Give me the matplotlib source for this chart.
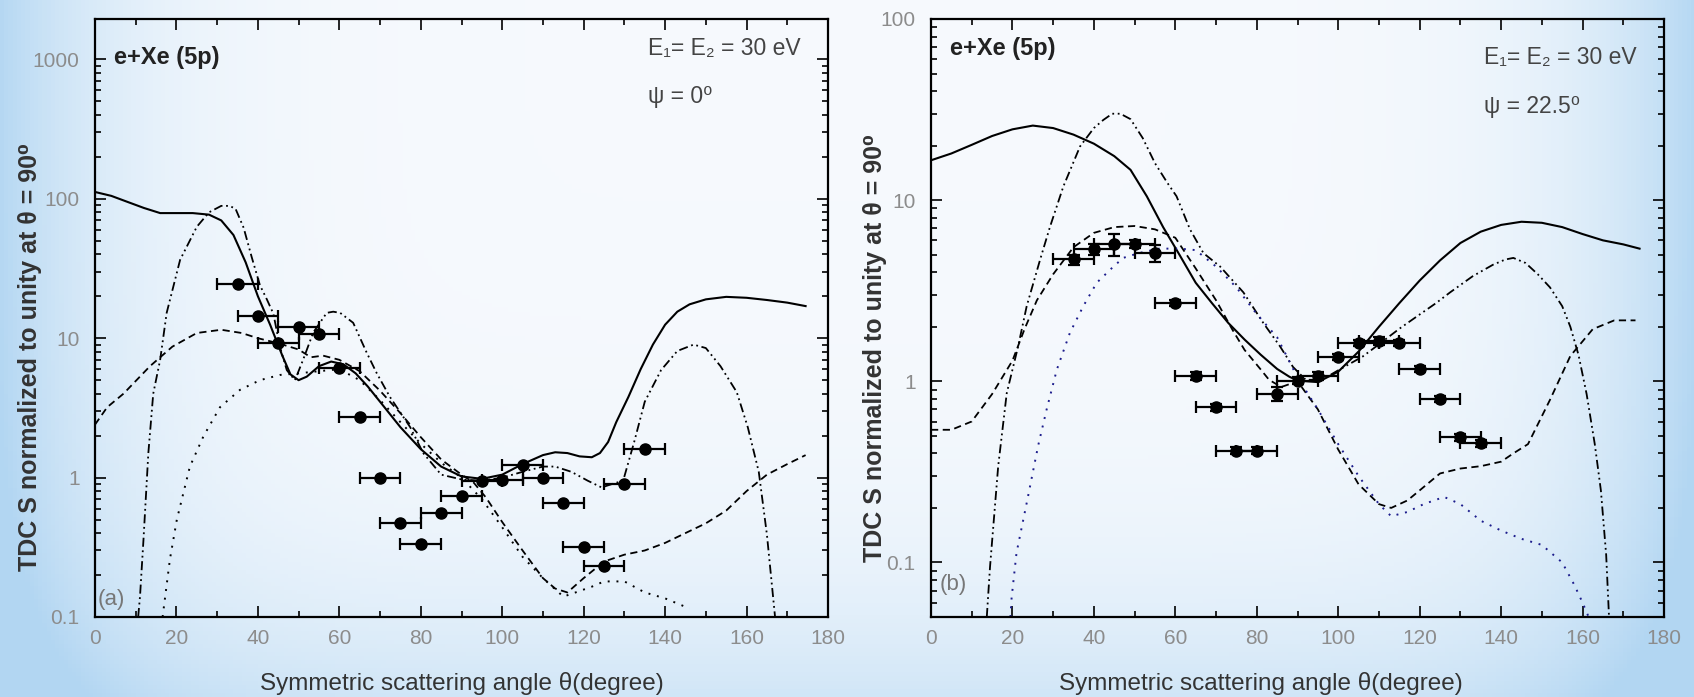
import numpy as np
import matplotlib
matplotlib.use("Agg")
from matplotlib import pyplot as plt
from matplotlib.ticker import FixedLocator, LogLocator, FuncFormatter, NullFormatter

plt.rcParams['font.family'] = ['Liberation Sans', 'DejaVu Sans']

# measured TDCS, normalized at 90 deg
theta_exp = [35, 40, 45, 50, 55, 60, 65, 70, 75, 80, 85, 90, 95, 100, 105, 110, 115, 120, 125, 130, 135]
dtheta = 5
tdcs_a = [24.4, 14.5, 9.3, 12.0, 10.7, 6.1, 2.74, 1.0, 0.47, 0.336, 0.553, 0.736, 0.94, 0.96,
          1.23, 1.0, 0.66, 0.32, 0.233, 0.90, 1.61]
tdcs_b = [4.71, 5.36, 5.74, 5.74, 5.13, 2.71, 1.07, 0.72, 0.415, 0.415, 0.855, 1.01, 1.07, 1.36,
          1.62, 1.67, 1.62, 1.17, 0.795, 0.49, 0.455]
err_b = [0.3, 0.4, 0.8, 0.3, 0.55, 0.1, 0.05, 0.03, 0.02, 0.02, 0.08, 0.04, 0.05, 0.05,
         0.06, 0.08, 0.06, 0.04, 0.03, 0.02, 0.02]

# theory, psi = 0
solid_a_x = [0, 4, 8, 12, 16, 20, 24, 28, 31, 34, 37, 40, 43, 46, 48, 50, 52, 55, 58, 61, 64, 67, 70, 75,
             80, 85, 90, 95, 100, 105, 110, 113, 116, 119, 122, 124, 126, 128, 131, 134, 137, 140, 143,
             146, 150, 155, 160, 165, 170, 174.5]
solid_a_y = [112, 105, 95, 86, 79, 79, 79, 77, 70, 55, 35, 20, 12.5, 7.5, 5.5, 5.0, 5.3, 6.3, 6.8, 6.5,
             5.6, 4.5, 3.5, 2.3, 1.6, 1.2, 1.02, 0.98, 1.05, 1.25, 1.45, 1.52, 1.5, 1.42, 1.4, 1.5, 1.8,
             2.5, 3.8, 6, 9, 12.5, 15.5, 17.5, 19, 19.8, 19.5, 18.8, 18, 17]
dashdot_a_x = [10.6, 11.05, 11.9, 13.1, 14.3, 16, 17.6, 20.9, 25, 28, 31, 33, 34.5, 36.5, 38.5, 40.5,
               42.2, 43.8, 45.4, 47.1, 49.1, 51.1, 53.6, 56.9, 58.5, 60.2, 63.4, 66.7, 69.2, 72.4,
               77.4, 80.6, 85, 90, 95, 100, 105, 110, 113, 117, 121, 124.4, 127, 129.7, 132.4, 135,
               139, 143, 147, 150, 153.6, 157.6, 160.3, 163, 165, 167]
dashdot_a_y = [0.1, 0.14, 0.357, 1.5, 4.0, 7.0, 15.2, 36.5, 63, 80, 89, 89, 85, 62, 38, 24, 19, 15,
               8.7, 5.9, 5.0, 7.0, 11, 15.2, 15.5, 15.2, 12.9, 7.9, 5.6, 3.8, 2.3, 1.5, 1.05, 0.97,
               0.95, 1.0, 1.1, 1.2, 1.2, 1.1, 0.95, 0.85, 0.9, 0.95, 1.8, 3.5, 5.9, 8.1, 9.0, 8.5,
               6.3, 4.1, 2.3, 1.1, 0.39, 0.1]
dashed_a_x = [0, 3, 7, 13.5, 19, 25, 31, 36, 40, 45, 50, 53, 56, 60, 65, 70, 75, 80, 85, 90, 93, 96,
              100, 105, 110, 113, 116, 120, 125, 130, 135, 140, 145, 150, 155, 160, 165, 170, 174.5]
dashed_a_y = [2.4, 3.2, 4.0, 6.3, 8.7, 10.9, 11.5, 10.9, 10.0, 9.2, 8.3, 7.3, 7.5, 7.0, 5.8, 4.2, 2.9,
              1.95, 1.35, 1.05, 0.92, 0.72, 0.48, 0.3, 0.19, 0.16, 0.15, 0.19, 0.25, 0.28, 0.3, 0.34,
              0.4, 0.47, 0.58, 0.8, 1.05, 1.25, 1.45]
dotted_a_x = [16.6, 18.4, 20.1, 23.3, 26.6, 30.7, 35.6, 40.5, 45.4, 50, 55, 60, 65, 70, 75, 80, 85, 90,
              95, 100, 105, 110, 115, 118, 122, 125, 130, 135, 140, 146]
dotted_a_y = [0.1, 0.26, 0.5, 1.2, 1.97, 3.2, 4.26, 5.0, 5.45, 5.6, 5.8, 6.0, 5.0, 3.6, 2.5, 1.75, 1.28,
              1.0, 0.7, 0.44, 0.27, 0.19, 0.14, 0.15, 0.165, 0.18, 0.18, 0.15, 0.136, 0.115]

# theory, psi = 22.5
solid_b_x = [0, 5, 10, 15, 20, 25, 30, 35, 40, 45, 49, 53, 57, 61, 65, 69, 73, 77, 81, 85, 88, 90, 95,
             100, 105, 110, 115, 120, 125, 130, 135, 140, 145, 150, 155, 160, 165, 170, 174]
solid_b_y = [16.6, 18.1, 20.2, 22.6, 24.6, 25.8, 25, 23, 20.5, 17.5, 14.7, 10.5, 7.1, 5.0, 3.5, 2.7,
             2.1, 1.7, 1.4, 1.17, 1.06, 1.01, 0.99, 1.13, 1.46, 2.0, 2.7, 3.6, 4.65, 5.8, 6.7, 7.3,
             7.6, 7.5, 7.1, 6.5, 6.0, 5.7, 5.4]
dashdot_b_x = [13.7, 14.5, 16.5, 18.6, 21.4, 23.5, 26.8, 29.2, 32.5, 36.6, 40, 42.3, 44.5, 46.5, 49,
               52, 55, 58, 60.3, 63.6, 66.9, 71, 76.7, 81.6, 85.7, 88.9, 92, 96, 100, 106, 110, 115,
               119.3, 124, 127.5, 133, 138, 141, 143, 146, 149, 152, 155, 157, 159, 161, 163, 164.5,
               165.8, 166.5]
dashdot_b_y = [0.05, 0.095, 0.34, 0.86, 1.56, 2.6, 4.7, 7.1, 11.9, 19.8, 25, 27.7, 30, 30, 28, 22, 16,
               12.5, 10.5, 6.9, 5.1, 4.3, 3.1, 2.1, 1.56, 1.2, 1.02, 1.02, 1.15, 1.37, 1.6, 1.95,
               2.28, 2.7, 3.1, 3.8, 4.4, 4.7, 4.8, 4.5, 3.9, 3.3, 2.6, 2.0, 1.4, 0.85, 0.45, 0.25,
               0.11, 0.05]
dashed_b_x = [0, 5, 10, 15, 20, 23, 26, 30, 35, 40, 45, 50, 55, 60, 65, 70, 74, 77, 81, 83, 86, 90, 95,
              100, 105, 110, 113, 117, 120, 125, 130, 135, 140, 143, 146.6, 152, 157, 162.5, 167.8, 173]
dashed_b_y = [0.54, 0.54, 0.6, 0.85, 1.3, 1.95, 2.8, 3.9, 5.5, 6.6, 7.1, 7.2, 6.9, 6.2, 4.2, 2.8, 1.93,
              1.49, 1.16, 1.02, 0.93, 1.0, 0.7, 0.42, 0.27, 0.21, 0.2, 0.22, 0.25, 0.31, 0.33, 0.34,
              0.36, 0.4, 0.45, 0.79, 1.38, 1.94, 2.17, 2.17]
dotted_b_x = [19.5, 19.8, 21, 23.8, 26.3, 28.4, 30.9, 34.1, 37.4, 40.7, 44.8, 47.2, 51, 56, 61, 65, 70,
              75, 80, 85, 90, 95, 100, 105, 110, 113, 117, 121, 126, 130, 135, 140, 145, 150, 155,
              158, 160, 161.5]
dotted_b_y = [0.05, 0.064, 0.113, 0.23, 0.44, 0.7, 1.16, 1.85, 2.6, 3.5, 4.3, 4.8, 5.1, 5.4, 5.4, 5.3,
              4.3, 3.3, 2.35, 1.75, 1.05, 0.7, 0.45, 0.3, 0.21, 0.18, 0.19, 0.21, 0.23, 0.21, 0.17,
              0.15, 0.135, 0.125, 0.1, 0.075, 0.06, 0.05]

fig = plt.figure(figsize=(16.94, 6.97), dpi=100)

# slide-style pale blue background
bg = fig.add_axes([0, 0, 1, 1], zorder=-10)
gx, gy = np.meshgrid(np.linspace(0, 1, 400), np.linspace(0, 1, 170))
w = np.clip(0.95 * (np.abs(gx - 0.5) * 2) ** 7 + 0.55 * gy ** 5, 0, 1)[..., None]
light = np.array([0.965, 0.978, 0.993])
blue = np.array([0.70, 0.84, 0.95])
bg.imshow(light * (1 - w) + blue * w, aspect='auto', extent=[0, 1, 0, 1])
bg.axis('off')

gray = '#8c8c8c'
dark = '#333333'


def style_axes(ax, ymin, ymax, yticks, ylab_xy, xlab_x):
    ax.set_facecolor('none')
    ax.set_yscale('log')
    ax.set_xlim(0, 180)
    ax.set_ylim(ymin, ymax)
    ax.xaxis.set_major_locator(FixedLocator(range(0, 181, 20)))
    ax.xaxis.set_minor_locator(FixedLocator(range(10, 180, 20)))
    ax.yaxis.set_major_locator(FixedLocator(yticks))
    ax.yaxis.set_minor_locator(LogLocator(base=10, subs=np.arange(2, 10)))
    ax.yaxis.set_major_formatter(FuncFormatter(lambda v, p: '%g' % v))
    ax.yaxis.set_minor_formatter(NullFormatter())
    ax.tick_params(which='both', direction='in', top=True, right=True, width=1.2,
                   labelcolor=gray, labelsize=15)
    ax.tick_params(which='major', length=8)
    ax.tick_params(axis='y', which='major', pad=11)
    ax.tick_params(axis='x', which='major', pad=9)
    ax.tick_params(which='minor', length=4)
    for s in ax.spines.values():
        s.set_linewidth(1.6)
    ax.set_xlabel('Symmetric scattering angle θ(degree)', fontsize=17.5, color=dark)
    ax.xaxis.label.set_va('center')
    ax.xaxis.set_label_coords(xlab_x, -0.112)
    ax.set_ylabel('TDC S normalized to unity at θ = 90⁰', fontsize=18, color=dark,
                  fontweight='bold')
    ax.yaxis.set_label_coords(*ylab_xy)


def draw_panel(ax, curves, dot_color, tdcs, yerr):
    sx, sy, ddx, ddy, dx, dy, px, py = curves
    ax.plot(sx, sy, color='black', lw=1.5)
    ax.plot(ddx, ddy, color='black', lw=1.3, dashes=(5, 2, 1, 2, 1, 2))
    ax.plot(dx, dy, color='black', lw=1.3, dashes=(4, 2.5))
    ax.plot(px, py, color=dot_color, lw=1.4, dashes=(1, 3.5))
    ax.errorbar(theta_exp, tdcs, xerr=dtheta, yerr=yerr, fmt='o', color='black', ms=8,
                elinewidth=1.6, capsize=4.5, capthick=1.6, zorder=5)


def label_panel(ax, tag, psi, tag_xy, head_y, energy_y, psi_y):
    ax.text(0.026, head_y, 'e+Xe (5p)', transform=ax.transAxes, fontsize=17, fontweight='bold',
            color='#222222', va='center')
    e_txt = ax.text(0.963, energy_y, 'E₁= E₂ = 30 eV', transform=ax.transAxes, fontsize=16.5,
                    color='#444444', ha='right', va='center')
    # psi line starts where the energy line starts
    fig.canvas.draw()
    x0 = ax.transAxes.inverted().transform(e_txt.get_window_extent().p0)[0]
    ax.text(x0, psi_y, psi, transform=ax.transAxes, fontsize=16.5, color='#444444', va='center')
    ax.text(tag_xy[0], tag_xy[1], tag, transform=ax.transAxes, fontsize=16, color='#777777',
            va='center')


ax1 = fig.add_axes([95 / 1694, 80 / 697, 733 / 1694, 598 / 697])
style_axes(ax1, 0.1, 1950, [0.1, 1, 10, 100, 1000], (-0.072, 0.435), 0.5)
draw_panel(ax1, (solid_a_x, solid_a_y, dashdot_a_x, dashdot_a_y, dashed_a_x, dashed_a_y,
                 dotted_a_x, dotted_a_y), 'black', tdcs_a, None)

ax2 = fig.add_axes([931 / 1694, 80 / 697, 733 / 1694, 598 / 697])
style_axes(ax2, 0.05, 100, [0.1, 1, 10, 100], (-0.06, 0.45), 0.45)
draw_panel(ax2, (solid_b_x, solid_b_y, dashdot_b_x, dashdot_b_y, dashed_b_x, dashed_b_y,
                 dotted_b_x, dotted_b_y), '#1c1c8c', tdcs_b, err_b)

label_panel(ax1, '(a)', 'ψ = 0⁰', (0.004, 0.03), 0.936, 0.951, 0.871)
label_panel(ax2, '(b)', 'ψ = 22.5⁰', (0.012, 0.055), 0.95, 0.936, 0.853)

fig.savefig('out.png', dpi=100)
